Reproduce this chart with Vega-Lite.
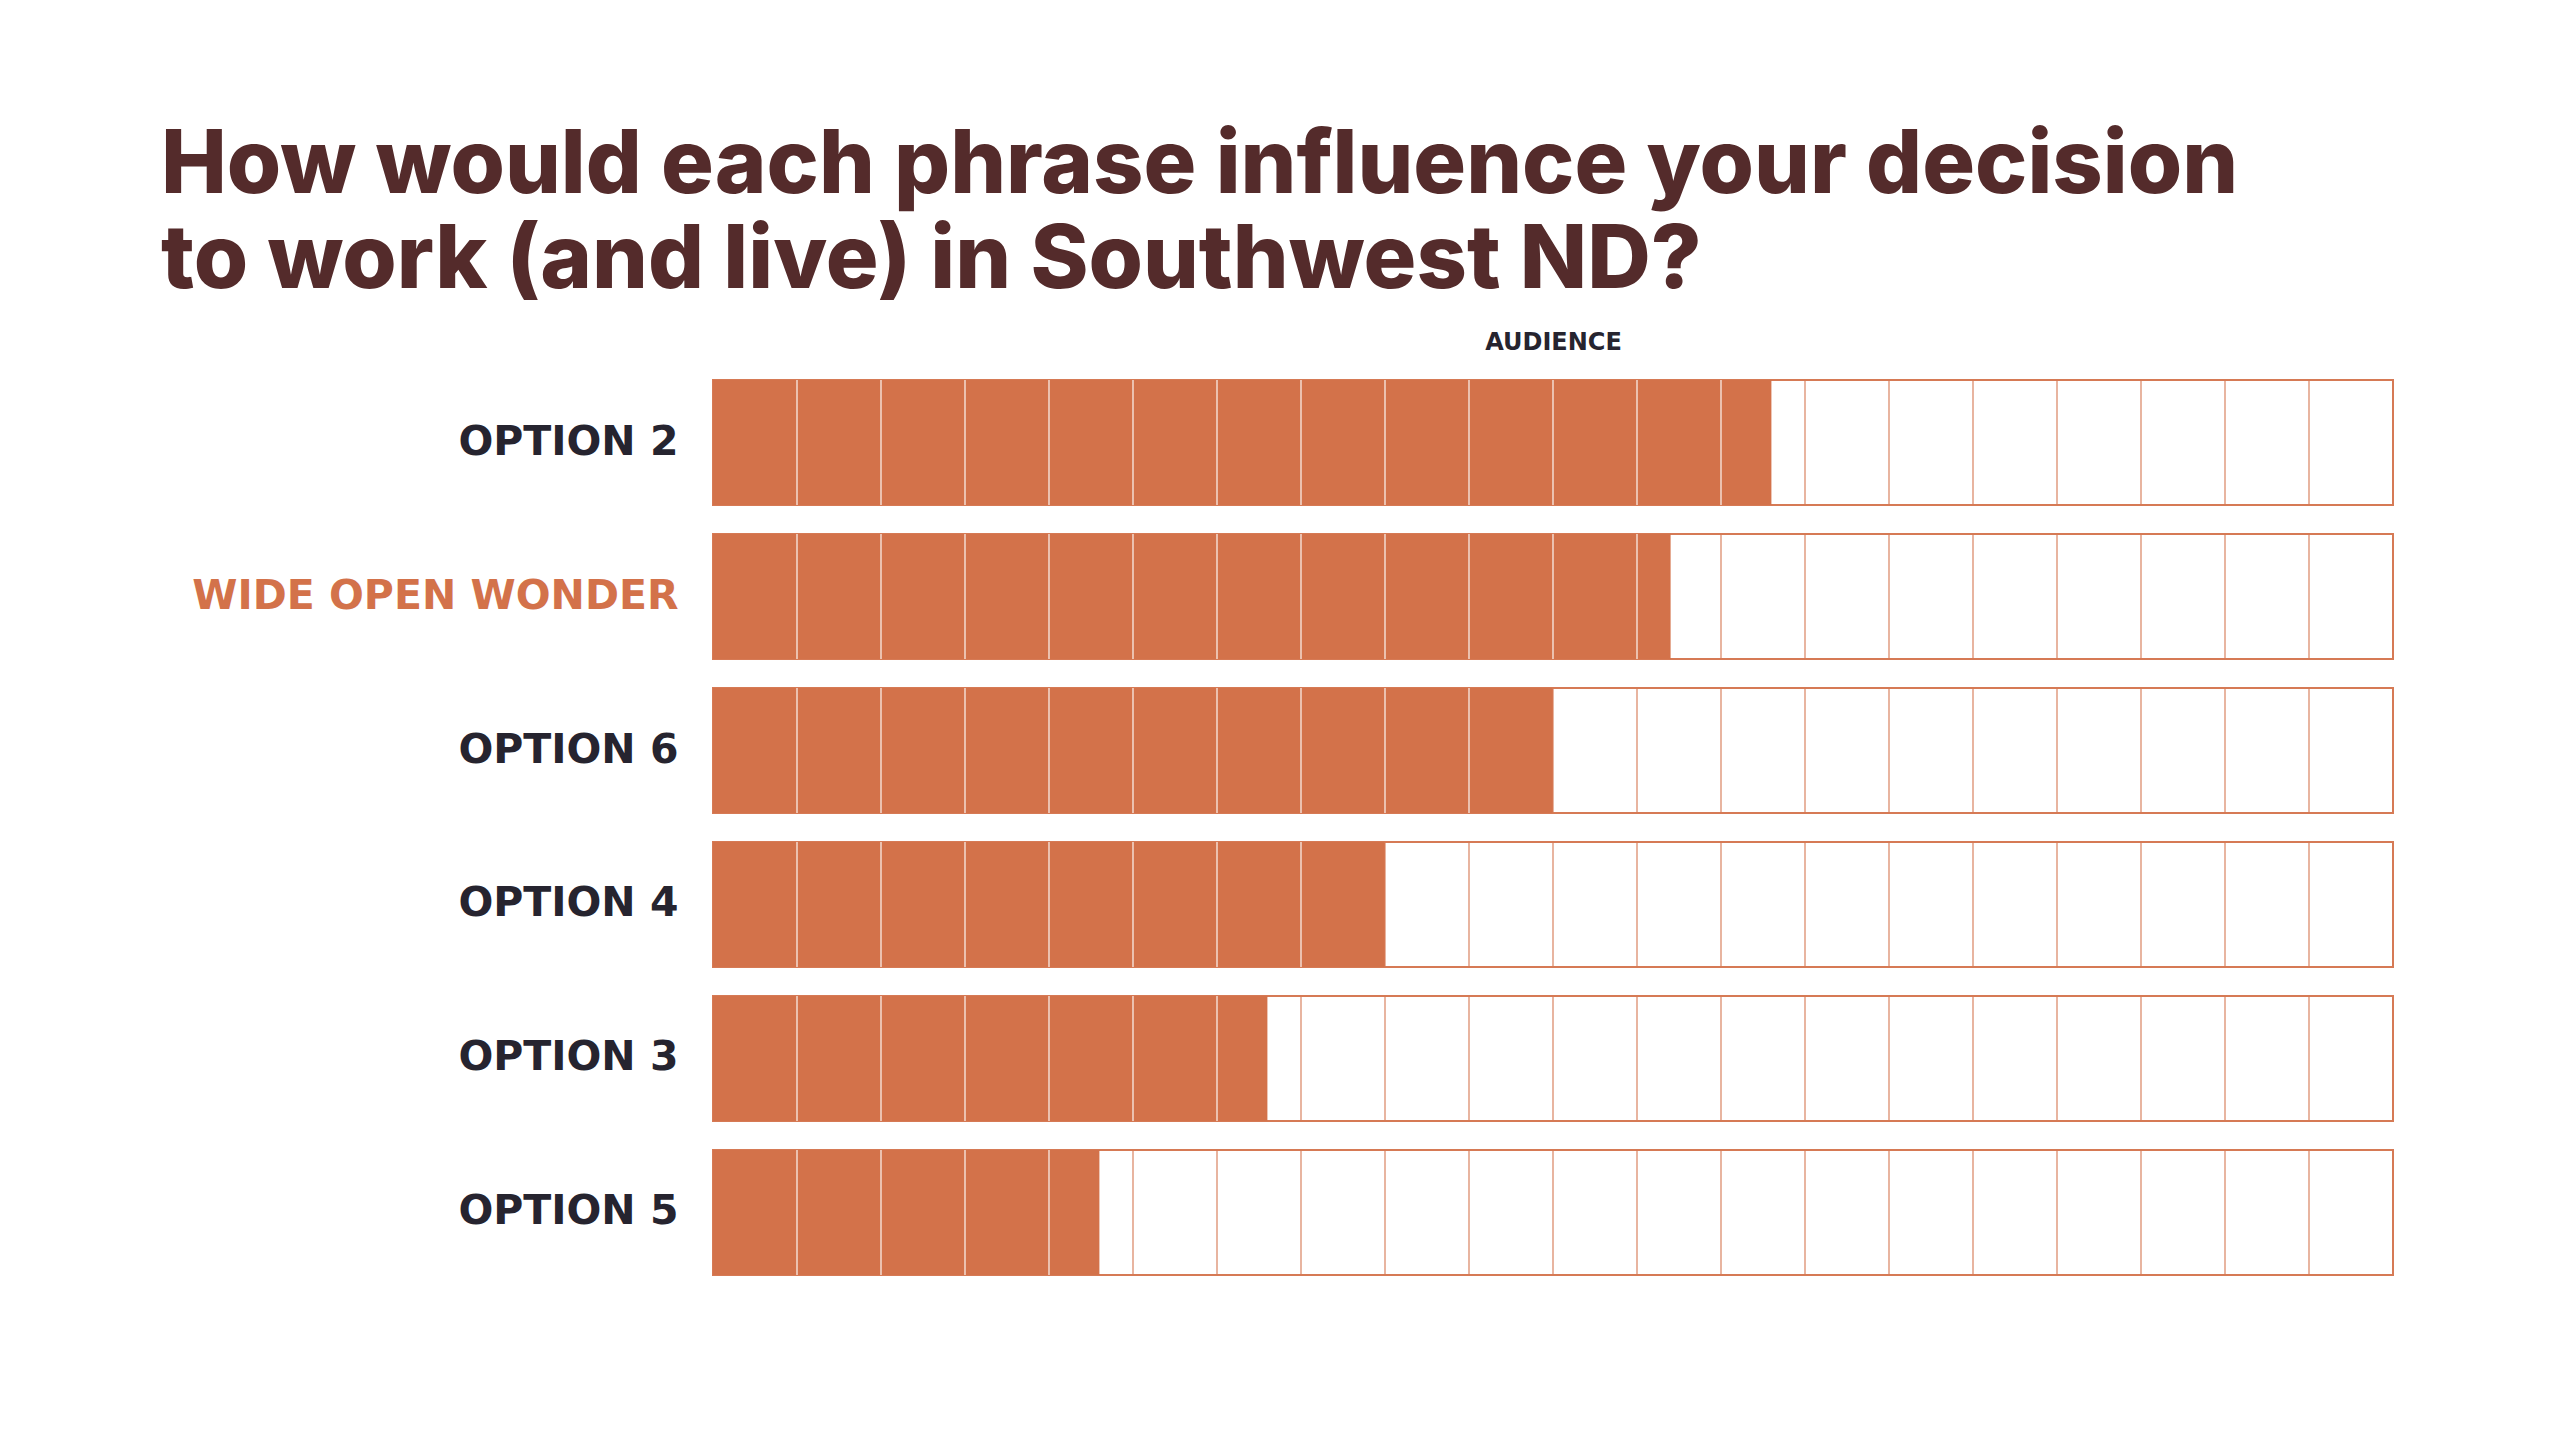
{
  "$schema": "https://vega.github.io/schema/vega-lite/v6.json",
  "width": 1680,
  "height": 895,
  "autosize": "none",
  "padding": {"left": 713, "top": 380, "right": 167, "bottom": 165},
  "background": "white",
  "config": {"view": {"stroke": null}},
  "title": {
    "text": ["How would each phrase influence your decision", "to work (and live) in Southwest ND?"],
    "font": "Inter",
    "fontSize": 88,
    "fontWeight": 800,
    "color": "#542b2b",
    "anchor": "start",
    "frame": "group",
    "dx": -552,
    "lineHeight": 95,
    "offset": 24
  },
  "datasets": {
    "bars": [
      {"option": "OPTION 2", "value": 63},
      {"option": "WIDE OPEN WONDER", "value": 57},
      {"option": "OPTION 6", "value": 50},
      {"option": "OPTION 4", "value": 40},
      {"option": "OPTION 3", "value": 33},
      {"option": "OPTION 5", "value": 23}
    ],
    "ticks": [
      {"option": "OPTION 2", "pos": 5}, {"option": "OPTION 2", "pos": 10}, {"option": "OPTION 2", "pos": 15}, {"option": "OPTION 2", "pos": 20}, {"option": "OPTION 2", "pos": 25}, {"option": "OPTION 2", "pos": 30}, {"option": "OPTION 2", "pos": 35}, {"option": "OPTION 2", "pos": 40}, {"option": "OPTION 2", "pos": 45}, {"option": "OPTION 2", "pos": 50}, {"option": "OPTION 2", "pos": 55}, {"option": "OPTION 2", "pos": 60}, {"option": "OPTION 2", "pos": 65}, {"option": "OPTION 2", "pos": 70}, {"option": "OPTION 2", "pos": 75}, {"option": "OPTION 2", "pos": 80}, {"option": "OPTION 2", "pos": 85}, {"option": "OPTION 2", "pos": 90}, {"option": "OPTION 2", "pos": 95},
      {"option": "WIDE OPEN WONDER", "pos": 5}, {"option": "WIDE OPEN WONDER", "pos": 10}, {"option": "WIDE OPEN WONDER", "pos": 15}, {"option": "WIDE OPEN WONDER", "pos": 20}, {"option": "WIDE OPEN WONDER", "pos": 25}, {"option": "WIDE OPEN WONDER", "pos": 30}, {"option": "WIDE OPEN WONDER", "pos": 35}, {"option": "WIDE OPEN WONDER", "pos": 40}, {"option": "WIDE OPEN WONDER", "pos": 45}, {"option": "WIDE OPEN WONDER", "pos": 50}, {"option": "WIDE OPEN WONDER", "pos": 55}, {"option": "WIDE OPEN WONDER", "pos": 60}, {"option": "WIDE OPEN WONDER", "pos": 65}, {"option": "WIDE OPEN WONDER", "pos": 70}, {"option": "WIDE OPEN WONDER", "pos": 75}, {"option": "WIDE OPEN WONDER", "pos": 80}, {"option": "WIDE OPEN WONDER", "pos": 85}, {"option": "WIDE OPEN WONDER", "pos": 90}, {"option": "WIDE OPEN WONDER", "pos": 95},
      {"option": "OPTION 6", "pos": 5}, {"option": "OPTION 6", "pos": 10}, {"option": "OPTION 6", "pos": 15}, {"option": "OPTION 6", "pos": 20}, {"option": "OPTION 6", "pos": 25}, {"option": "OPTION 6", "pos": 30}, {"option": "OPTION 6", "pos": 35}, {"option": "OPTION 6", "pos": 40}, {"option": "OPTION 6", "pos": 45}, {"option": "OPTION 6", "pos": 50}, {"option": "OPTION 6", "pos": 55}, {"option": "OPTION 6", "pos": 60}, {"option": "OPTION 6", "pos": 65}, {"option": "OPTION 6", "pos": 70}, {"option": "OPTION 6", "pos": 75}, {"option": "OPTION 6", "pos": 80}, {"option": "OPTION 6", "pos": 85}, {"option": "OPTION 6", "pos": 90}, {"option": "OPTION 6", "pos": 95},
      {"option": "OPTION 4", "pos": 5}, {"option": "OPTION 4", "pos": 10}, {"option": "OPTION 4", "pos": 15}, {"option": "OPTION 4", "pos": 20}, {"option": "OPTION 4", "pos": 25}, {"option": "OPTION 4", "pos": 30}, {"option": "OPTION 4", "pos": 35}, {"option": "OPTION 4", "pos": 40}, {"option": "OPTION 4", "pos": 45}, {"option": "OPTION 4", "pos": 50}, {"option": "OPTION 4", "pos": 55}, {"option": "OPTION 4", "pos": 60}, {"option": "OPTION 4", "pos": 65}, {"option": "OPTION 4", "pos": 70}, {"option": "OPTION 4", "pos": 75}, {"option": "OPTION 4", "pos": 80}, {"option": "OPTION 4", "pos": 85}, {"option": "OPTION 4", "pos": 90}, {"option": "OPTION 4", "pos": 95},
      {"option": "OPTION 3", "pos": 5}, {"option": "OPTION 3", "pos": 10}, {"option": "OPTION 3", "pos": 15}, {"option": "OPTION 3", "pos": 20}, {"option": "OPTION 3", "pos": 25}, {"option": "OPTION 3", "pos": 30}, {"option": "OPTION 3", "pos": 35}, {"option": "OPTION 3", "pos": 40}, {"option": "OPTION 3", "pos": 45}, {"option": "OPTION 3", "pos": 50}, {"option": "OPTION 3", "pos": 55}, {"option": "OPTION 3", "pos": 60}, {"option": "OPTION 3", "pos": 65}, {"option": "OPTION 3", "pos": 70}, {"option": "OPTION 3", "pos": 75}, {"option": "OPTION 3", "pos": 80}, {"option": "OPTION 3", "pos": 85}, {"option": "OPTION 3", "pos": 90}, {"option": "OPTION 3", "pos": 95},
      {"option": "OPTION 5", "pos": 5}, {"option": "OPTION 5", "pos": 10}, {"option": "OPTION 5", "pos": 15}, {"option": "OPTION 5", "pos": 20}, {"option": "OPTION 5", "pos": 25}, {"option": "OPTION 5", "pos": 30}, {"option": "OPTION 5", "pos": 35}, {"option": "OPTION 5", "pos": 40}, {"option": "OPTION 5", "pos": 45}, {"option": "OPTION 5", "pos": 50}, {"option": "OPTION 5", "pos": 55}, {"option": "OPTION 5", "pos": 60}, {"option": "OPTION 5", "pos": 65}, {"option": "OPTION 5", "pos": 70}, {"option": "OPTION 5", "pos": 75}, {"option": "OPTION 5", "pos": 80}, {"option": "OPTION 5", "pos": 85}, {"option": "OPTION 5", "pos": 90}, {"option": "OPTION 5", "pos": 95}
    ]
  },
  "encoding": {
    "y": {
      "field": "option",
      "type": "nominal",
      "sort": ["OPTION 2", "WIDE OPEN WONDER", "OPTION 6", "OPTION 4", "OPTION 3", "OPTION 5"],
      "scale": {"paddingInner": 0.188, "paddingOuter": 0},
      "axis": {
        "title": null,
        "domain": false,
        "ticks": false,
        "labelPadding": 35,
        "labelFont": "DejaVu Sans",
        "labelFontSize": 41,
        "labelFontWeight": "bold",
        "labelColor": {"condition": {"test": "datum.value === 'WIDE OPEN WONDER'", "value": "#d3724a"}, "value": "#26242f"},
        "labelLimit": 800
      }
    }
  },
  "layer": [
    {
      "data": {"name": "bars"},
      "mark": {"type": "bar", "fill": "white", "stroke": "#d67a55", "strokeWidth": 2},
      "encoding": {
        "x": {
          "datum": 100,
          "type": "quantitative",
          "scale": {"domain": [0, 100], "nice": false},
          "axis": {
            "orient": "top",
            "title": "AUDIENCE",
            "titleFont": "DejaVu Sans",
            "titleFontSize": 24,
            "titleFontWeight": "bold",
            "titleColor": "#26242f",
            "titlePadding": 26,
            "labels": false,
            "ticks": false,
            "domain": false,
            "grid": false
          }
        }
      }
    },
    {
      "data": {"name": "bars"},
      "mark": {"type": "bar", "color": "#d3724a"},
      "encoding": {
        "x": {"field": "value", "type": "quantitative"}
      }
    },
    {
      "data": {"name": "ticks"},
      "transform": [
        {"lookup": "option", "from": {"data": {"name": "bars"}, "key": "option", "fields": ["value"]}}
      ],
      "mark": {"type": "tick", "size": 125, "thickness": 1.6},
      "encoding": {
        "x": {"field": "pos", "type": "quantitative"},
        "color": {"condition": {"test": "datum.pos < datum.value", "value": "#ffffff"}, "value": "#d67a55"}
      }
    }
  ]
}
